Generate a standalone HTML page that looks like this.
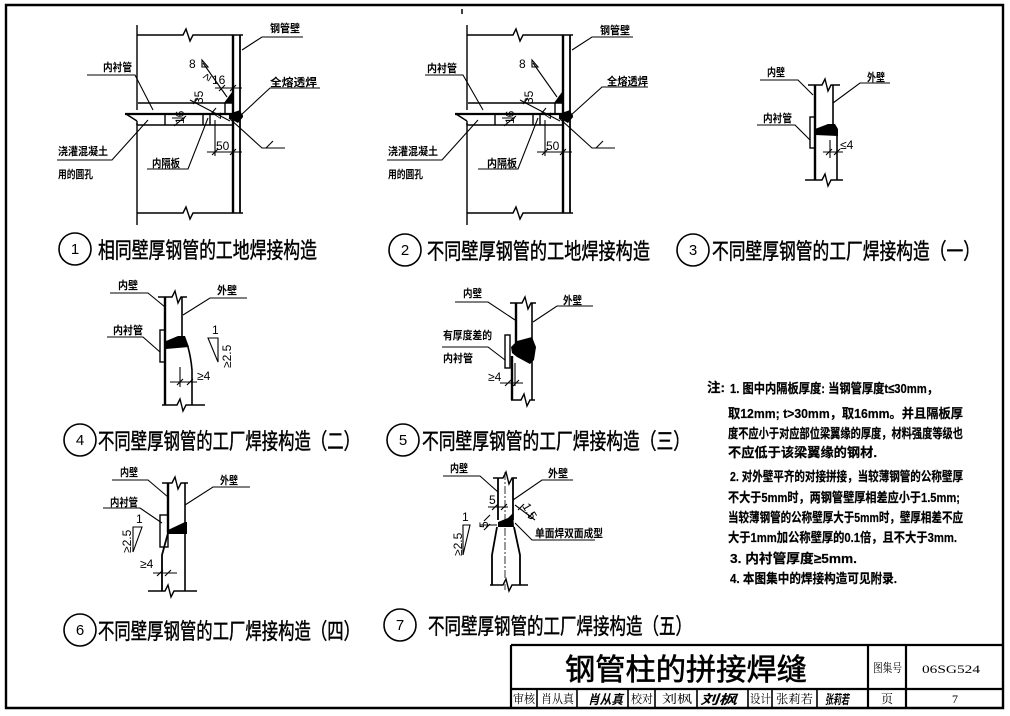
<!DOCTYPE html>
<html><head><meta charset="utf-8"><style>
html,body{margin:0;padding:0;background:#fff;}
svg{display:block;}
text{font-family:"Liberation Sans","Noto Sans CJK SC",sans-serif;fill:#000;}
.lb{font-size:11px;font-weight:bold;}
.cap{font-size:22px;stroke:#000;stroke-width:0.45px;}
.nt{font-size:13px;font-weight:bold;stroke:#000;stroke-width:0.2px;}
.sr{font-family:"Liberation Serif","Noto Serif CJK SC",serif;font-size:12px;}
.dm{font-size:12px;}
</style></head><body>
<svg width="1010" height="716" viewBox="0 0 1010 716" xmlns="http://www.w3.org/2000/svg">
<rect width="1010" height="716" fill="#fff"/>
<!-- frame -->
<path d="M6 5H1003V708H6Z" fill="none" stroke="#000" stroke-width="2.4"/>
<path d="M462 9V14" stroke="#000" stroke-width="1.5"/>

<!-- ================= Diagram 1 ================= -->
<g stroke="#000" fill="none" stroke-width="1.4">
<path d="M137 25V110 M137 123V225"/>
<path d="M137 35H183L186 29L190 41L193 35H243"/>
<path d="M137 213H183L186 207L190 219L193 213H243"/>
<path d="M233 35V213" stroke-width="2.4"/>
<path d="M240 35V213" stroke-width="1.8"/>
<path d="M138 103H232 M225 103V114"/>
<path d="M125 114H232" stroke-width="2.2"/>
<path d="M126 114L137 121 M137 121V125"/>
<path d="M137 125H232"/>
<path d="M165 114V125 M203 114V125 M210 114V125"/>
<path d="M240 116L270 88H320" stroke-width="1.1"/>
<path d="M242 50L262 37H303" stroke-width="1.1"/>
<path d="M153 110L135 75H87" stroke-width="1.1"/>
<path d="M148 120L112 160H57" stroke-width="1.1"/>
<path d="M208 118L188 169H147" stroke-width="1.1"/>
<path d="M203 63L227 97" stroke-width="1.1"/>
<path d="M202 60V67H208Z" stroke-width="1.1"/>
<path d="M215 88H242 M219 91L225 85 M230 91L236 85" stroke-width="1.1"/>
<path d="M190 100L230 121 M193 104L198 98 M211 114L216 108" stroke-width="1.1"/>
<path d="M174 126L186 116 M172 118L185 118" stroke-width="1.1"/>
<path d="M207 152H242 M212 155L218 149 M230 155L236 149 M215 120V156" stroke-width="1.1"/>
<path d="M229 118L262 148H285 M266 148L273 141" stroke-width="1.1"/>
</g>
<polygon points="232,92 232,103 224,103" fill="#000"/>
<polygon points="229,114 240,110 243,117 238,123 229,118" fill="#000"/>
<circle cx="240" cy="116" r="3" fill="#000"/>
<text class="lb" x="270" y="32" textLength="30" lengthAdjust="spacingAndGlyphs">钢管壁</text>
<text class="lb" x="270" y="86" textLength="47" lengthAdjust="spacingAndGlyphs">全熔透焊</text>
<text class="lb" x="103" y="71" textLength="29" lengthAdjust="spacingAndGlyphs">内衬管</text>
<text class="lb" x="58" y="155" textLength="50" lengthAdjust="spacingAndGlyphs">浇灌混凝土</text>
<text class="lb" x="58" y="178" textLength="35" lengthAdjust="spacingAndGlyphs">用的圆孔</text>
<text class="lb" x="152" y="167" textLength="28" lengthAdjust="spacingAndGlyphs">内隔板</text>
<text class="dm" x="189" y="68" font-size="13">8</text>
<text class="dm" x="212" y="84">16</text>
<text class="dm" x="204" y="82" font-size="10" transform="rotate(-60 206 78)">≥</text>
<text class="dm" transform="translate(203,104) rotate(-90)">35</text>
<text class="dm" transform="translate(184,124) rotate(-90)">16</text>
<text class="dm" transform="translate(223,119) rotate(-90)">4</text>
<text class="dm" x="216" y="150">50</text>

<!-- ================= Diagram 2 ================= -->
<g transform="translate(330,0)">
<g stroke="#000" fill="none" stroke-width="1.4">
<path d="M137 25V110 M137 123V225"/>
<path d="M137 35H183L186 29L190 41L193 35H243"/>
<path d="M137 213H183L186 207L190 219L193 213H243"/>
<path d="M233 35V213" stroke-width="2.4"/>
<path d="M240 35V213" stroke-width="1.8"/>
<path d="M138 103H232 M225 103V114"/>
<path d="M125 114H232" stroke-width="2.2"/>
<path d="M126 114L137 121 M137 121V125"/>
<path d="M137 125H232"/>
<path d="M165 114V125 M203 114V125 M210 114V125"/>
<path d="M240 116L272 87H318" stroke-width="1.1"/>
<path d="M242 50L262 37H303" stroke-width="1.1"/>
<path d="M153 110L133 75H95" stroke-width="1.1"/>
<path d="M148 120L112 160H57" stroke-width="1.1"/>
<path d="M208 118L188 169H148" stroke-width="1.1"/>
<path d="M203 63L227 97" stroke-width="1.1"/>
<path d="M202 60V67H208Z" stroke-width="1.1"/>
<path d="M190 100L230 121 M193 104L198 98 M211 114L216 108" stroke-width="1.1"/>
<path d="M174 126L186 116 M172 118L185 118" stroke-width="1.1"/>
<path d="M207 152H242 M212 155L218 149 M230 155L236 149 M215 120V156" stroke-width="1.1"/>
<path d="M229 118L262 148H285 M266 148L273 141" stroke-width="1.1"/>
</g>
<polygon points="232,92 232,103 224,103" fill="#000"/>
<polygon points="229,114 240,110 243,117 238,123 229,118" fill="#000"/>
<circle cx="240" cy="116" r="3" fill="#000"/>
<text class="lb" x="270" y="34" textLength="30" lengthAdjust="spacingAndGlyphs">钢管壁</text>
<text class="lb" x="277" y="85" textLength="41" lengthAdjust="spacingAndGlyphs">全熔透焊</text>
<text class="lb" x="97" y="72" textLength="30" lengthAdjust="spacingAndGlyphs">内衬管</text>
<text class="lb" x="58" y="155" textLength="50" lengthAdjust="spacingAndGlyphs">浇灌混凝土</text>
<text class="lb" x="58" y="178" textLength="35" lengthAdjust="spacingAndGlyphs">用的圆孔</text>
<text class="lb" x="157" y="167" textLength="30" lengthAdjust="spacingAndGlyphs">内隔板</text>
<text class="dm" x="189" y="68" font-size="13">8</text>
<text class="dm" transform="translate(203,104) rotate(-90)">35</text>
<text class="dm" transform="translate(184,124) rotate(-90)">16</text>
<text class="dm" transform="translate(223,119) rotate(-90)">4</text>
<text class="dm" x="216" y="150">50</text>
</g>

<!-- ================= Diagram 3 ================= -->
<g stroke="#000" fill="none" stroke-width="1.4">
<path d="M808 85H822L825 79L828 91L831 85H840"/>
<path d="M805 180H822L825 174L828 186L831 180H843"/>
<path d="M815 85V180" stroke-width="2.4"/>
<path d="M833 85V125" stroke-width="1.6"/>
<path d="M837 134V180" stroke-width="1.6"/>
<rect x="810" y="117" width="5" height="31"/>
<path d="M813 95L798 80H760" stroke-width="1.1"/>
<path d="M833 103L860 83H890" stroke-width="1.1"/>
<path d="M810 140L795 125H757" stroke-width="1.1"/>
<path d="M823 152H843 M826 155L832 149 M834 155L840 149 M830 140V158" stroke-width="1.1"/>
</g>
<polygon points="815,135 815,129 828,124 835,124 838,129 838,136" fill="#000"/>
<text class="lb" x="767" y="76" textLength="18" lengthAdjust="spacingAndGlyphs">内壁</text>
<text class="lb" x="867" y="81" textLength="18" lengthAdjust="spacingAndGlyphs">外壁</text>
<text class="lb" x="763" y="122" textLength="29" lengthAdjust="spacingAndGlyphs">内衬管</text>
<text class="dm" x="840" y="149">≤4</text>

<!-- ================= Diagram 4 ================= -->
<g stroke="#000" fill="none" stroke-width="1.4">
<path d="M158 297H172L175 291L178 303L181 297H187"/>
<path d="M162 405H177L180 399L183 411L186 405H205"/>
<path d="M165 297V405" stroke-width="2.4"/>
<path d="M182 297V340" stroke-width="1.6"/>
<path d="M188 347Q191 358 192 370V405" stroke-width="1.6"/>
<rect x="160" y="330" width="5" height="32"/>
<path d="M165 307L148 293H110" stroke-width="1.1"/>
<path d="M183 315L210 298H247" stroke-width="1.1"/>
<path d="M160 352L143 337H107" stroke-width="1.1"/>
<path d="M208 338H218V362Z" stroke-width="1.1"/>
<path d="M170 382H197 M177 385L183 379 M187 385L193 379 M180 367V387" stroke-width="1.1"/>
</g>
<polygon points="166,341 178,336 185,336 189,347 166,349" fill="#000"/>
<text class="lb" x="118" y="289" textLength="20" lengthAdjust="spacingAndGlyphs">内壁</text>
<text class="lb" x="217" y="294" textLength="20" lengthAdjust="spacingAndGlyphs">外壁</text>
<text class="lb" x="113" y="334" textLength="30" lengthAdjust="spacingAndGlyphs">内衬管</text>
<text class="dm" x="212" y="334">1</text>
<text class="dm" transform="translate(231,368) rotate(-90)">≥2.5</text>
<text class="dm" x="197" y="380">≥4</text>

<!-- ================= Diagram 5 ================= -->
<g stroke="#000" fill="none" stroke-width="1.4">
<path d="M510 303H522L525 297L528 309L531 303H536"/>
<path d="M511 400H521L524 394L527 406L530 400H535"/>
<path d="M516 303V343" stroke-width="2.4"/>
<path d="M512 356V400" stroke-width="2.4"/>
<path d="M532 303V400" stroke-width="1.6"/>
<rect x="505" y="335" width="5" height="33"/>
<path d="M515 320L488 302H455" stroke-width="1.1"/>
<path d="M533 322L557 306H593" stroke-width="1.1"/>
<path d="M505 360L488 347H442" stroke-width="1.1"/>
<path d="M500 383H523 M505 386L511 380 M513 386L519 380 M515 363V386" stroke-width="1.1"/>
</g>
<polygon points="511,347 517,341 532,337 536,347 534,360 530,364 517,357 512,353" fill="#000"/>
<text class="lb" x="463" y="297" textLength="19" lengthAdjust="spacingAndGlyphs">内壁</text>
<text class="lb" x="563" y="304" textLength="19" lengthAdjust="spacingAndGlyphs">外壁</text>
<text class="lb" x="443" y="339" textLength="49" lengthAdjust="spacingAndGlyphs">有厚度差的</text>
<text class="lb" x="443" y="362" textLength="30" lengthAdjust="spacingAndGlyphs">内衬管</text>
<text class="dm" x="488" y="381">≥4</text>

<!-- ================= Diagram 6 ================= -->
<g stroke="#000" fill="none" stroke-width="1.4">
<path d="M162 483H172L175 477L178 489L181 483H188"/>
<path d="M148 591H165L168 585L171 597L174 591H197"/>
<path d="M168 483V533" stroke-width="2.4"/>
<path d="M168 533L162 555V591" stroke-width="1.8"/>
<path d="M185 483V591" stroke-width="1.6"/>
<rect x="160" y="515" width="8" height="32"/>
<path d="M168 497L148 480H112" stroke-width="1.1"/>
<path d="M185 505L213 487H250" stroke-width="1.1"/>
<path d="M162 523L140 508H103" stroke-width="1.1"/>
<path d="M133 527H142L133 552Z" stroke-width="1.1"/>
<path d="M153 573H177 M157 576L163 570 M165 576L171 570 M162 560V578" stroke-width="1.1"/>
</g>
<polygon points="168,530 185,522 187,522 187,534 168,534" fill="#000"/>
<text class="lb" x="120" y="476" textLength="18" lengthAdjust="spacingAndGlyphs">内壁</text>
<text class="lb" x="220" y="484" textLength="18" lengthAdjust="spacingAndGlyphs">外壁</text>
<text class="lb" x="110" y="506" textLength="28" lengthAdjust="spacingAndGlyphs">内衬管</text>
<text class="dm" x="136" y="523">1</text>
<text class="dm" transform="translate(131,553) rotate(-90)">≥2.5</text>
<text class="dm" x="140" y="568">≥4</text>

<!-- ================= Diagram 7 ================= -->
<g stroke="#000" fill="none" stroke-width="1.4">
<path d="M493 478H503L506 472L509 484L512 478H517"/>
<path d="M490 585H503L506 579L509 591L512 585H528"/>
<path d="M498 478V520" stroke-width="1.8"/>
<path d="M513 478V520" stroke-width="1.8"/>
<path d="M497 527L492 555V585" stroke-width="1.8"/>
<path d="M514 527L520 555V585" stroke-width="1.8"/>
<path d="M505 472V590" stroke-width="0.8" stroke-dasharray="8,2,2,2"/>
<path d="M498 492L480 476H443" stroke-width="1.1"/>
<path d="M513 500L542 480H573" stroke-width="1.1"/>
<path d="M515 523L532 540H595" stroke-width="1.1"/>
<path d="M488 507H508 M492 510L498 504 M501 510L507 504" stroke-width="1.1"/>
<path d="M480 525H497 M484 521L490 515 M484 530L490 524" stroke-width="1.1"/>
<path d="M515 505L535 520 M518 510L524 504 M528 518L534 512" stroke-width="1.1"/>
<path d="M463 525H470L463 555Z" stroke-width="1.1"/>
</g>
<polygon points="498,522 508,518 513,513 514,527 498,527" fill="#000"/>
<text class="lb" x="450" y="472" textLength="18" lengthAdjust="spacingAndGlyphs">内壁</text>
<text class="lb" x="548" y="477" textLength="20" lengthAdjust="spacingAndGlyphs">外壁</text>
<text class="lb" x="535" y="537" textLength="68" lengthAdjust="spacingAndGlyphs">单面焊双面成型</text>
<text class="dm" x="489" y="504">5</text>
<text class="dm" transform="translate(488,528) rotate(-90)">5</text>
<text class="dm" font-size="11" transform="translate(522,506) rotate(60)">1.5</text>
<text class="dm" x="462" y="521">1</text>
<text class="dm" transform="translate(462,556) rotate(-90)">≥2.5</text>

<!-- ================= Captions ================= -->
<g fill="none" stroke="#000" stroke-width="1.6">
<circle cx="75" cy="249" r="16"/>
<circle cx="405" cy="250" r="16"/>
<circle cx="693" cy="250" r="16"/>
<circle cx="80" cy="440" r="16"/>
<circle cx="403" cy="440" r="16"/>
<circle cx="80" cy="630" r="16"/>
<circle cx="400" cy="625" r="16"/>
</g>
<g font-size="15" text-anchor="middle">
<text x="75" y="254">1</text>
<text x="405" y="255">2</text>
<text x="693" y="255">3</text>
<text x="80" y="445">4</text>
<text x="403" y="445">5</text>
<text x="80" y="635">6</text>
<text x="400" y="630">7</text>
</g>
<text class="cap" x="98" y="258" textLength="219" lengthAdjust="spacingAndGlyphs">相同壁厚钢管的工地焊接构造</text>
<text class="cap" x="427" y="259" textLength="223" lengthAdjust="spacingAndGlyphs">不同壁厚钢管的工地焊接构造</text>
<text class="cap" x="712" y="259" textLength="268" lengthAdjust="spacingAndGlyphs">不同壁厚钢管的工厂焊接构造（一）</text>
<text class="cap" x="98" y="449" textLength="262" lengthAdjust="spacingAndGlyphs">不同壁厚钢管的工厂焊接构造（二）</text>
<text class="cap" x="422" y="449" textLength="268" lengthAdjust="spacingAndGlyphs">不同壁厚钢管的工厂焊接构造（三）</text>
<text class="cap" x="98" y="639" textLength="262" lengthAdjust="spacingAndGlyphs">不同壁厚钢管的工厂焊接构造（四）</text>
<text class="cap" x="428" y="634" textLength="264" lengthAdjust="spacingAndGlyphs">不同壁厚钢管的工厂焊接构造（五）</text>

<!-- ================= Notes ================= -->
<text class="nt" x="707" y="392" font-size="14" textLength="18" lengthAdjust="spacingAndGlyphs">注:</text>
<text class="nt" x="730" y="393" textLength="208" lengthAdjust="spacingAndGlyphs">1. 图中内隔板厚度: 当钢管厚度t≤30mm，</text>
<text class="nt" x="728" y="418" textLength="235" lengthAdjust="spacingAndGlyphs">取12mm;  t&gt;30mm，取16mm。并且隔板厚</text>
<text class="nt" x="728" y="438" textLength="235" lengthAdjust="spacingAndGlyphs">度不应小于对应部位梁翼缘的厚度，材料强度等级也</text>
<text class="nt" x="728" y="457" textLength="149" lengthAdjust="spacingAndGlyphs">不应低于该梁翼缘的钢材.</text>
<text class="nt" x="730" y="481" textLength="233" lengthAdjust="spacingAndGlyphs">2. 对外壁平齐的对接拼接，当较薄钢管的公称壁厚</text>
<text class="nt" x="728" y="502" textLength="232" lengthAdjust="spacingAndGlyphs">不大于5mm时，两钢管壁厚相差应小于1.5mm;</text>
<text class="nt" x="728" y="522" textLength="235" lengthAdjust="spacingAndGlyphs">当较薄钢管的公称壁厚大于5mm时，壁厚相差不应</text>
<text class="nt" x="728" y="542" textLength="229" lengthAdjust="spacingAndGlyphs">大于1mm加公称壁厚的0.1倍，且不大于3mm.</text>
<text class="nt" x="730" y="563" textLength="127" lengthAdjust="spacingAndGlyphs">3. 内衬管厚度≥5mm.</text>
<text class="nt" x="730" y="583" textLength="167" lengthAdjust="spacingAndGlyphs">4. 本图集中的焊接构造可见附录.</text>

<!-- ================= Title block ================= -->
<g stroke="#000" fill="none" stroke-width="2.2">
<path d="M511 645H1003 M511 645V708 M511 689H1003 M868 645V708 M906 645V708"/>
<path d="M537 689V708 M577 689V708 M628 689V708 M655 689V708 M697 689V708 M748 689V708 M772 689V708 M817 689V708" stroke-width="1.6"/>
</g>
<text x="565" y="680" font-size="30" stroke="#000" stroke-width="0.6" textLength="242" lengthAdjust="spacingAndGlyphs">钢管柱的拼接焊缝</text>
<text class="sr" x="873" y="672" font-size="13" textLength="29" lengthAdjust="spacingAndGlyphs">图集号</text>
<text class="sr" x="922" y="673" font-size="15" textLength="58" lengthAdjust="spacingAndGlyphs">06SG524</text>
<text class="sr" x="513" y="703" textLength="22" lengthAdjust="spacingAndGlyphs">审核</text>
<text class="sr" x="541" y="703" textLength="33" lengthAdjust="spacingAndGlyphs">肖从真</text>
<text x="588" y="704" font-size="13" font-weight="bold" font-style="italic" textLength="35" lengthAdjust="spacingAndGlyphs">肖从真</text>
<text class="sr" x="631" y="703" textLength="22" lengthAdjust="spacingAndGlyphs">校对</text>
<text class="sr" x="662" y="703" textLength="30" lengthAdjust="spacingAndGlyphs">刘枫</text>
<text x="700" y="704" font-size="13" font-weight="bold" font-style="italic" textLength="37" lengthAdjust="spacingAndGlyphs">刘枫</text>
<text class="sr" x="750" y="703" textLength="21" lengthAdjust="spacingAndGlyphs">设计</text>
<text class="sr" x="776" y="703" textLength="37" lengthAdjust="spacingAndGlyphs">张莉若</text>
<text x="825" y="704" font-size="13" font-weight="bold" font-style="italic" textLength="24" lengthAdjust="spacingAndGlyphs">张莉若</text>
<text class="sr" x="887" y="703" text-anchor="middle">页</text>
<text class="sr" x="955" y="703" text-anchor="middle">7</text>
</svg>
</body></html>
